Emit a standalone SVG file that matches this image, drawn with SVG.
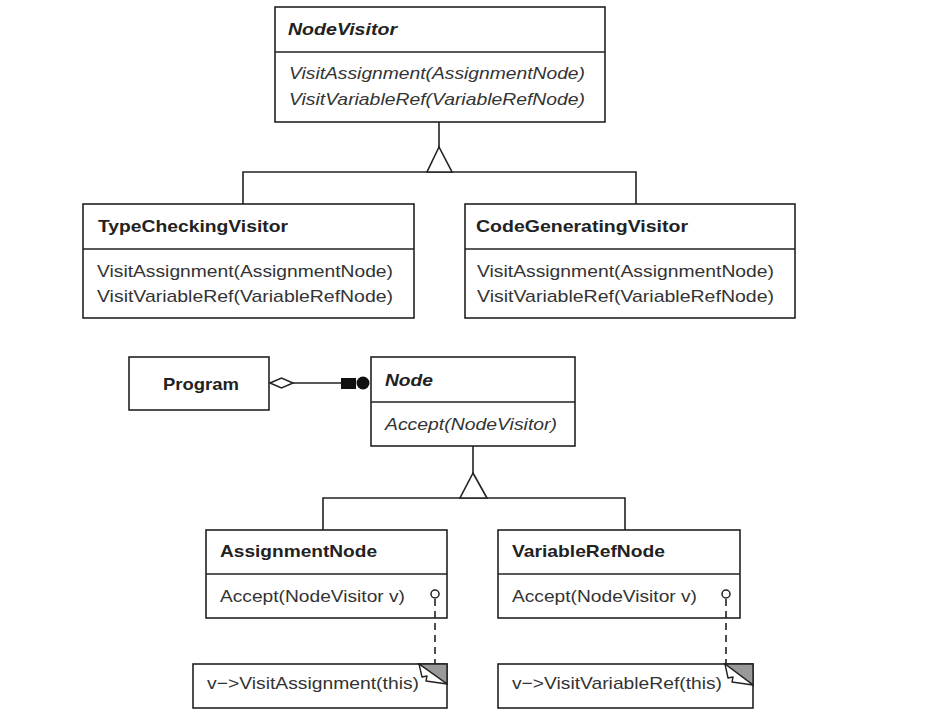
<svg xmlns="http://www.w3.org/2000/svg" width="931" height="718" viewBox="0 0 931 718">
<style>
.box{fill:#fff;stroke:#222;stroke-width:1.6}
.ln{fill:none;stroke:#222;stroke-width:1.6}
.t{font-family:"Liberation Sans",Arial,sans-serif;font-size:17px;fill:#222;font-weight:bold}
.m{font-family:"Liberation Sans",Arial,sans-serif;font-size:17px;fill:#333}
.i{font-style:italic}
.tri{fill:#fff;stroke:#222;stroke-width:1.6}
.dash{fill:none;stroke:#222;stroke-width:1.6;stroke-dasharray:7,5}
</style>
<rect width="931" height="718" fill="#fff"/>
<g id="NodeVisitor">
<rect class="box" x="275" y="7" width="330" height="115"/>
<line class="ln" x1="275" y1="52" x2="605" y2="52"/>
<text class="t i" x="288" y="35" textLength="109" lengthAdjust="spacingAndGlyphs">NodeVisitor</text>
<text class="m i" x="289" y="79" textLength="296" lengthAdjust="spacingAndGlyphs">VisitAssignment(AssignmentNode)</text>
<text class="m i" x="289" y="105" textLength="296" lengthAdjust="spacingAndGlyphs">VisitVariableRef(VariableRefNode)</text>
</g>
<g id="TypeCheckingVisitor">
<rect class="box" x="83" y="204" width="331" height="114"/>
<line class="ln" x1="83" y1="249" x2="414" y2="249"/>
<text class="t" x="98" y="232" textLength="190" lengthAdjust="spacingAndGlyphs">TypeCheckingVisitor</text>
<text class="m" x="97" y="277" textLength="296" lengthAdjust="spacingAndGlyphs">VisitAssignment(AssignmentNode)</text>
<text class="m" x="97" y="302" textLength="296" lengthAdjust="spacingAndGlyphs">VisitVariableRef(VariableRefNode)</text>
</g>
<g id="CodeGeneratingVisitor">
<rect class="box" x="465" y="204" width="330" height="114"/>
<line class="ln" x1="465" y1="249" x2="795" y2="249"/>
<text class="t" x="476" y="232" textLength="212" lengthAdjust="spacingAndGlyphs">CodeGeneratingVisitor</text>
<text class="m" x="477" y="277" textLength="297" lengthAdjust="spacingAndGlyphs">VisitAssignment(AssignmentNode)</text>
<text class="m" x="477" y="302" textLength="297" lengthAdjust="spacingAndGlyphs">VisitVariableRef(VariableRefNode)</text>
</g>
<g id="Program">
<rect class="box" x="129" y="357" width="140" height="53"/>
<text class="t" x="163" y="390" textLength="76" lengthAdjust="spacingAndGlyphs">Program</text>
</g>
<g id="Node">
<rect class="box" x="371" y="357" width="204" height="89"/>
<line class="ln" x1="371" y1="402" x2="575" y2="402"/>
<text class="t i" x="385" y="386" textLength="48" lengthAdjust="spacingAndGlyphs">Node</text>
<text class="m i" x="385" y="430" textLength="172" lengthAdjust="spacingAndGlyphs">Accept(NodeVisitor)</text>
</g>
<g id="AssignmentNode">
<rect class="box" x="206" y="530" width="241" height="88"/>
<line class="ln" x1="206" y1="574" x2="447" y2="574"/>
<text class="t" x="220" y="557" textLength="157" lengthAdjust="spacingAndGlyphs">AssignmentNode</text>
<text class="m" x="220" y="602" textLength="185" lengthAdjust="spacingAndGlyphs">Accept(NodeVisitor v)</text>
</g>
<g id="VariableRefNode">
<rect class="box" x="498" y="530" width="242" height="88"/>
<line class="ln" x1="498" y1="574" x2="740" y2="574"/>
<text class="t" x="512" y="557" textLength="153" lengthAdjust="spacingAndGlyphs">VariableRefNode</text>
<text class="m" x="512" y="602" textLength="185" lengthAdjust="spacingAndGlyphs">Accept(NodeVisitor v)</text>
</g>
<g id="NoteAssignment">
<rect class="box" x="193" y="664" width="254" height="44"/>
<polygon points="419,664 447,664 447,684" fill="#999" stroke="#222" stroke-width="1.4"/>
<path d="M419,664 L447,684 L426,681 L427,676 L422,677 Z" fill="#fff" stroke="#222" stroke-width="1.4" stroke-linejoin="round"/>
<text class="m" x="207" y="689" textLength="212" lengthAdjust="spacingAndGlyphs">v−&gt;VisitAssignment(this)</text>
</g>
<g id="NoteVariableRef">
<rect class="box" x="498" y="664" width="255" height="44"/>
<polygon points="725,664 753,664 753,685" fill="#999" stroke="#222" stroke-width="1.4"/>
<path d="M725,664 L753,685 L732,682 L733,677 L728,678 Z" fill="#fff" stroke="#222" stroke-width="1.4" stroke-linejoin="round"/>
<text class="m" x="512" y="689" textLength="210" lengthAdjust="spacingAndGlyphs">v−&gt;VisitVariableRef(this)</text>
</g>
<g id="connectors">
<line class="ln" x1="439" y1="122" x2="439" y2="147"/>
<polyline class="ln" points="243,204 243,172 636,172 636,204"/>
<polygon class="tri" points="439,147 427,172 452,172"/>
<line class="ln" x1="473" y1="446" x2="473" y2="473"/>
<polyline class="ln" points="323,530 323,498 625,498 625,530"/>
<polygon class="tri" points="473,473 460,498 487,498"/>
<line class="ln" x1="293" y1="383" x2="342" y2="383"/>
<polygon class="tri" points="270,383 281.5,378 293,383 281.5,388"/>
<rect x="341" y="378" width="15" height="11" fill="#111"/>
<circle cx="363" cy="383" r="6.5" fill="#111"/>
<circle cx="435" cy="594" r="4" fill="#fff" stroke="#222" stroke-width="1.5"/>
<line class="dash" x1="435" y1="599" x2="435" y2="664"/>
<circle cx="726" cy="594" r="4" fill="#fff" stroke="#222" stroke-width="1.5"/>
<line class="dash" x1="726" y1="599" x2="726" y2="664"/>
</g>
</svg>
